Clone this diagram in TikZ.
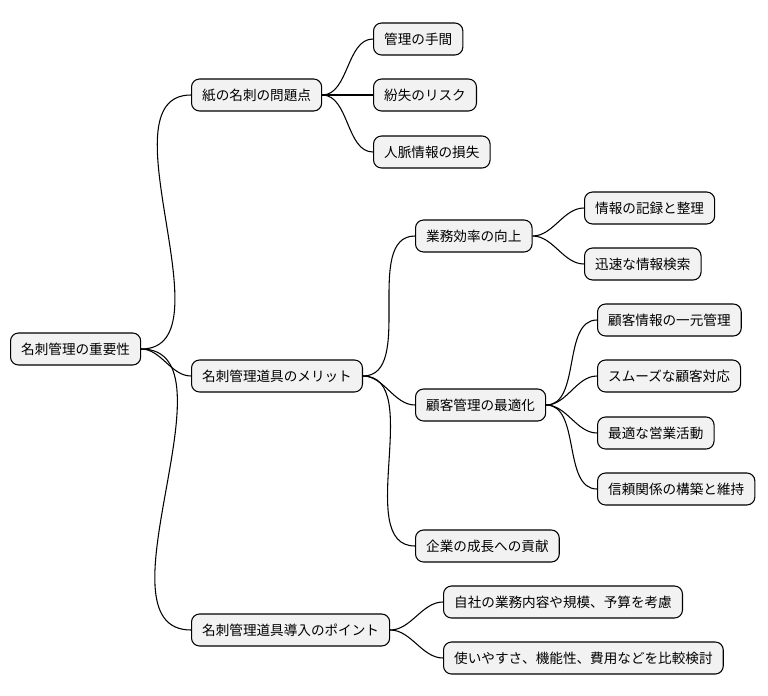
\documentclass[tikz,border=0pt]{standalone}
\usepackage{fontspec}
\setmainfont{Noto Sans CJK JP}
\begin{document}
\begin{tikzpicture}[x=0.75pt,y=-0.75pt,
  box/.style={draw=black,fill=gray!10,rounded corners=6pt,line width=0.8pt,anchor=west,
    minimum height=24pt,inner xsep=8pt,font=\fontsize{10.2}{12}\selectfont},
  link/.style={line width=0.8pt,out=0,in=180,looseness=0.9}]
\useasboundingbox (0,0) rectangle (768,696);
\node[box] (r) at (10,349) {名刺管理の重要性};
\node[box] (a) at (191,95) {紙の名刺の問題点};
\node[box] (a1) at (373,39) {管理の手間};
\node[box] (a2) at (373,95) {紛失のリスク};
\node[box] (a3) at (373,152) {人脈情報の損失};
\node[box] (b) at (191,376) {名刺管理道具のメリット};
\node[box] (b1) at (415,236) {業務効率の向上};
\node[box] (b11) at (584,208) {情報の記録と整理};
\node[box] (b12) at (584,264) {迅速な情報検索};
\node[box] (b2) at (415,405) {顧客管理の最適化};
\node[box] (b21) at (597,320) {顧客情報の一元管理};
\node[box] (b22) at (597,376) {スムーズな顧客対応};
\node[box] (b23) at (597,433) {最適な営業活動};
\node[box] (b24) at (597,489) {信頼関係の構築と維持};
\node[box] (b3) at (415,546) {企業の成長への貢献};
\node[box] (c) at (191,630) {名刺管理道具導入のポイント};
\node[box] (c1) at (443,602) {自社の業務内容や規模、予算を考慮};
\node[box] (c2) at (443,658) {使いやすさ、機能性、費用などを比較検討};
\foreach \p/\c in {r/a,r/b,r/c,a/a1,a/a2,a/a3,b/b1,b/b2,b/b3,b1/b11,b1/b12,b2/b21,b2/b22,b2/b23,b2/b24,c/c1,c/c2}
  \draw[link] (\p.east) to (\c.west);
\end{tikzpicture}
\end{document}
